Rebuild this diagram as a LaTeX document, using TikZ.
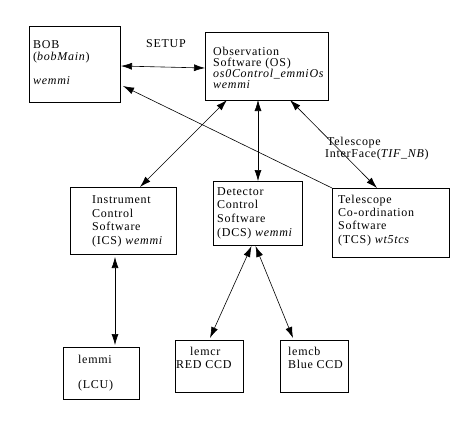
\documentclass[tikz,border=0pt]{standalone}
\usepackage{fontspec}
\setmainfont[LetterSpace=6]{Liberation Serif}
\usetikzlibrary{arrows.meta}
\tikzset{
  box/.style={draw, line width=0.8pt, inner sep=0pt, outer sep=0pt, rectangle},
  txt/.style={anchor=base west, inner sep=0pt, font=\fontsize{12}{13}\selectfont},
  link/.style={line width=0.6pt, {Latex[length=11pt,width=7pt]}-{Latex[length=11pt,width=7pt]}},
  onelink/.style={line width=0.6pt, -{Latex[length=11pt,width=7pt]}}
}
\begin{document}
\begin{tikzpicture}[x=1pt,y=-1pt]
\useasboundingbox (0,0) rectangle (468,445);
% boxes
\node[box, minimum width=91pt, minimum height=76pt] (bob) at (74.5,64) {};
\node[box, minimum width=123pt, minimum height=68pt] (os) at (266.5,66) {};
\node[box, minimum width=106pt, minimum height=67pt] (ics) at (123,220.5) {};
\node[box, minimum width=89pt, minimum height=64pt] (dcs) at (257.5,213) {};
\node[box, minimum width=117pt, minimum height=69pt] (tcs) at (390.5,222.5) {};
\node[box, minimum width=76pt, minimum height=52pt] (lemmi) at (101,373) {};
\node[box, minimum width=68pt, minimum height=52pt] (lemcr) at (209,366) {};
\node[box, minimum width=68pt, minimum height=52pt] (lemcb) at (314,366) {};
% texts
\node[txt] (bob1) at (33,48) {BOB};
\node[txt] (bob2) at (33,60) {(\textit{bobMain})};
\node[txt] (bob3) at (33,84) {\textit{wemmi}};
\node[txt] (setup) at (146,47) {SETUP};
\node[txt] (os1) at (213,55) {Observation};
\node[txt] (os2) at (213,66) {Software (OS)};
\node[txt] (os3) at (213,77) {\textit{os0Control\_emmiOs}};
\node[txt] (os4) at (213,88) {\textit{wemmi}};
\node[txt] (tif1) at (327,145) {Telescope};
\node[txt] (tif2) at (325,157) {InterFace(\textit{TIF\_NB})};
\node[txt] (ics1) at (92,203) {Instrument};
\node[txt] (ics2) at (92,217) {Control};
\node[txt] (ics3) at (92,230) {Software};
\node[txt] (ics4) at (92,244) {(ICS) \textit{wemmi}};
\node[txt] (dcs1) at (217,195) {Detector};
\node[txt] (dcs2) at (217,208) {Control};
\node[txt] (dcs3) at (217,222) {Software};
\node[txt] (dcs4) at (217,236) {(DCS) \textit{wemmi}};
\node[txt] (tcs1) at (338,203) {Telescope};
\node[txt] (tcs2) at (338,216) {Co-ordination};
\node[txt] (tcs3) at (338,229) {Software};
\node[txt] (tcs4) at (338,243) {(TCS) \textit{wt5tcs}};
\node[txt] (lm1) at (78,363) {lemmi};
\node[txt] (lm2) at (78,388) {(LCU)};
\node[txt] (lr1) at (190,355) {lemcr};
\node[txt] (lr2) at (176,368) {RED CCD};
\node[txt] (lb1) at (288,355) {lemcb};
\node[txt] (lb2) at (288,368) {Blue CCD};
% connectors
\draw[link] ([xshift=1pt,yshift=-2pt]bob.east) -- ([yshift=-2pt]os.west);
\draw[onelink] (tcs.north west) -- ([xshift=3pt,yshift=16pt]bob.south east);
\draw[link] ([xshift=22pt]os.south west) -- ([xshift=70pt]ics.north west);
\draw[link] ([xshift=-8.5pt]os.south) -- ([xshift=45pt]dcs.north west);
\draw[link] ([xshift=85pt]os.south west) -- ([xshift=45pt]tcs.north west);
\draw[link] ([xshift=-8pt,yshift=-3pt]ics.south) -- ([xshift=14pt,yshift=2pt]lemmi.north);
\draw[link] ([xshift=-6pt,yshift=-1pt]dcs.south) -- ([xshift=1pt,yshift=2pt]lemcr.north);
\draw[link] ([xshift=-2pt,yshift=-1pt]dcs.south) -- ([xshift=-21pt,yshift=2pt]lemcb.north);
\end{tikzpicture}
\end{document}
